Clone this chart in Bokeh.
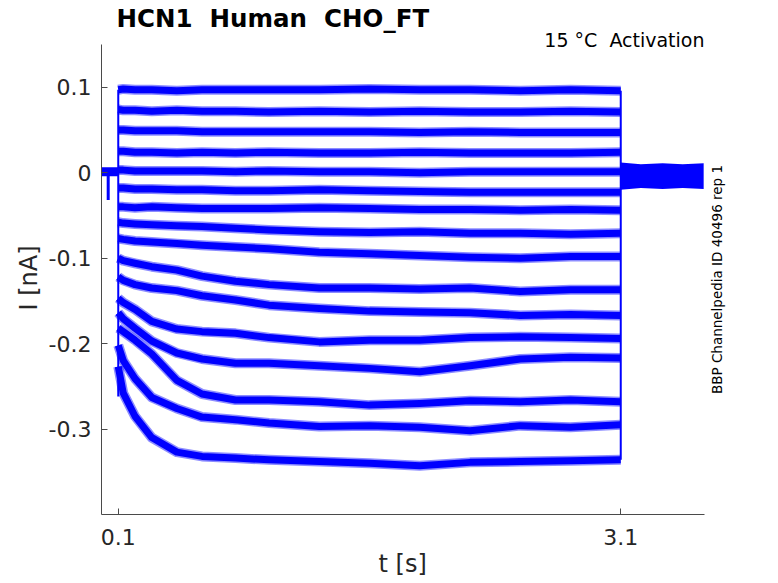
import math
from bokeh.plotting import figure
from bokeh.models import FixedTicker, Label, Range1d, Title
from bokeh.embed import file_html
from bokeh.resources import INLINE

# ---- data ----
t_step = [0.1, 0.13, 0.2, 0.3, 0.45, 0.6, 0.8, 1.0, 1.3, 1.6, 1.9, 2.2, 2.5, 2.8, 3.1]

trace01 = [0.097, 0.098, 0.097, 0.097, 0.096, 0.097, 0.097, 0.097, 0.097, 0.098, 0.097, 0.097, 0.096, 0.097, 0.096]
trace02 = [0.074, 0.073, 0.073, 0.072, 0.073, 0.072, 0.072, 0.071, 0.072, 0.071, 0.072, 0.071, 0.071, 0.072, 0.071]
trace03 = [0.050, 0.050, 0.049, 0.049, 0.049, 0.048, 0.048, 0.048, 0.048, 0.048, 0.047, 0.048, 0.047, 0.047, 0.047]
trace04 = [0.025, 0.025, 0.024, 0.024, 0.023, 0.024, 0.023, 0.024, 0.023, 0.023, 0.024, 0.023, 0.023, 0.023, 0.024]
trace05 = [0.003, 0.003, 0.002, 0.002, 0.002, 0.002, 0.001, 0.002, 0.001, 0.001, 0.000, 0.001, 0.001, 0.001, 0.001]
trace06 = [-0.018, -0.018, -0.019, -0.019, -0.020, -0.020, -0.021, -0.021, -0.020, -0.021, -0.022, -0.023, -0.023, -0.023, -0.023]
trace07 = [-0.040, -0.040, -0.041, -0.040, -0.041, -0.042, -0.042, -0.042, -0.041, -0.042, -0.043, -0.043, -0.044, -0.043, -0.044]
trace08 = [-0.058, -0.059, -0.060, -0.061, -0.062, -0.063, -0.065, -0.067, -0.069, -0.070, -0.069, -0.071, -0.071, -0.072, -0.071]
trace09 = [-0.077, -0.078, -0.080, -0.081, -0.083, -0.085, -0.087, -0.089, -0.093, -0.095, -0.097, -0.099, -0.100, -0.098, -0.098]
trace10 = [-0.100, -0.103, -0.106, -0.110, -0.114, -0.121, -0.127, -0.131, -0.135, -0.135, -0.136, -0.135, -0.139, -0.137, -0.137]
trace11 = [-0.122, -0.126, -0.131, -0.135, -0.138, -0.144, -0.149, -0.155, -0.159, -0.162, -0.163, -0.164, -0.167, -0.166, -0.167]
trace12 = [-0.147, -0.152, -0.160, -0.174, -0.183, -0.186, -0.188, -0.193, -0.198, -0.196, -0.196, -0.193, -0.192, -0.193, -0.194]
trace13 = [-0.164, -0.171, -0.182, -0.197, -0.211, -0.218, -0.223, -0.223, -0.226, -0.229, -0.233, -0.226, -0.218, -0.216, -0.217]
trace14 = [-0.182, -0.186, -0.196, -0.212, -0.243, -0.259, -0.266, -0.266, -0.268, -0.272, -0.270, -0.267, -0.268, -0.266, -0.268]
trace15 = [-0.202, -0.220, -0.241, -0.263, -0.276, -0.286, -0.289, -0.293, -0.297, -0.296, -0.298, -0.302, -0.296, -0.298, -0.295]
trace16 = [-0.227, -0.258, -0.285, -0.310, -0.327, -0.332, -0.334, -0.336, -0.338, -0.340, -0.343, -0.339, -0.338, -0.337, -0.336]

traces = [trace01, trace02, trace03, trace04, trace05, trace06, trace07, trace08,
          trace09, trace10, trace11, trace12, trace13, trace14, trace15, trace16]

t_hold = [0.0, 0.1]
hold_level = [0.001, 0.001]
artifact_t = [0.04, 0.04]
artifact_i = [0.001, -0.032]
onset_peak = -0.262

t_tail = [3.1, 3.22, 3.35, 3.47, 3.595]
tail_hi = [0.012, 0.010, 0.011, 0.010, 0.011]
tail_lo = [-0.020, -0.018, -0.019, -0.018, -0.019]

x_ticks = [0.1, 3.1]
x_tick_labels = ["0.1", "3.1"]
y_ticks = [-0.3, -0.2, -0.1, 0.0, 0.1]
y_tick_labels = ["-0.3", "-0.2", "-0.1", "0", "0.1"]
x_axis_span = (0.0, 3.6)
y_axis_span = (-0.4, 0.15)

title_text = "HCN1 \u00a0Human \u00a0CHO_FT"
subtitle_text = "15 °C \u00a0Activation"
side_text = "BBP Channelpedia ID 40496 rep 1"
x_label = "t [s]"
y_label = "I [nA]"

# ---- figure ----
BLUE = "#0000ff"
AX = "#262626"
FONT = "DejaVu Sans"

# frame reaches the top and right canvas edges so that the texts there are drawn inside it;
# the axis lines are limited to the data span with `bounds`
p = figure(width=778, height=583, x_range=Range1d(0, 4.0418), y_range=Range1d(-0.4, 0.2015),
           output_backend="svg", toolbar_location=None,
           min_border_left=101, min_border_right=0, min_border_top=0, min_border_bottom=69)
p.grid.visible = False
p.outline_line_color = None
p.background_fill_color = "white"
p.border_fill_color = "white"

for ax in (p.xaxis[0], p.yaxis[0]):
    ax.axis_line_color = "#4a4a4a"
    ax.axis_line_width = 1
    ax.major_tick_line_color = "#4a4a4a"
    ax.major_tick_in = 6
    ax.major_tick_out = 0
    ax.minor_tick_line_color = None
    ax.major_label_text_font = FONT
    ax.major_label_text_font_size = "22px"
    ax.major_label_text_color = AX

p.xaxis.bounds = x_axis_span
p.yaxis.bounds = y_axis_span
p.xaxis.ticker = FixedTicker(ticks=x_ticks)
p.xaxis.major_label_overrides = {k: v for k, v in zip(x_ticks, x_tick_labels)}
p.xaxis.major_label_standoff = 14
p.yaxis.ticker = FixedTicker(ticks=y_ticks)
p.yaxis.major_label_overrides = {k: v for k, v in zip(y_ticks, y_tick_labels)}
p.yaxis.major_label_standoff = 10

# axis titles, placed in the side panels beyond the axes
p.add_layout(Title(text=x_label, align="left", offset=277, standoff=0, vertical_align="bottom",
                   text_font=FONT, text_font_size="24px", text_font_style="normal",
                   text_color=AX), "below")
p.add_layout(Title(text=y_label, align="left", offset=204, standoff=6, vertical_align="bottom",
                   text_font=FONT, text_font_size="24px", text_font_style="normal",
                   text_color=AX), "left")

# holding segment and artifact
p.line(t_hold, hold_level, line_color=BLUE, line_width=9)
p.line(artifact_t, artifact_i, line_color=BLUE, line_width=3)

# onset and offset vertical edges
tops = [tr[0] for tr in traces]
ends = [tr[-1] for tr in traces]
p.line([t_step[0], t_step[0]], [max(tops), onset_peak], line_color=BLUE, line_width=2)
p.line([t_step[-1], t_step[-1]], [max(ends), min(ends)], line_color=BLUE, line_width=2)

# tail currents band
p.varea(x=t_tail, y1=tail_lo, y2=tail_hi, fill_color=BLUE)

# step traces
for tr in traces:
    p.line(t_step, tr, line_color=BLUE, line_width=10, line_alpha=0.45, line_join="round")
    p.line(t_step, tr, line_color=BLUE, line_width=7, line_join="round")

# texts
p.add_layout(Label(x=0.0896, y=0.1810, text=title_text, text_font=FONT, text_font_style="bold",
                   text_font_size="24.5px", text_color="black", text_align="left", text_baseline="middle"))
p.add_layout(Label(x=3.6, y=0.1547, text=subtitle_text, text_font=FONT,
                   text_font_size="19px", text_color="black", text_align="right", text_baseline="middle"))
p.add_layout(Label(x=3.6746, y=-0.1250, text=side_text, text_font=FONT, angle=math.pi / 2,
                   text_font_size="13.5px", text_color="black", text_align="center", text_baseline="middle"))

open("out.html", "w").write(file_html(p, INLINE))
